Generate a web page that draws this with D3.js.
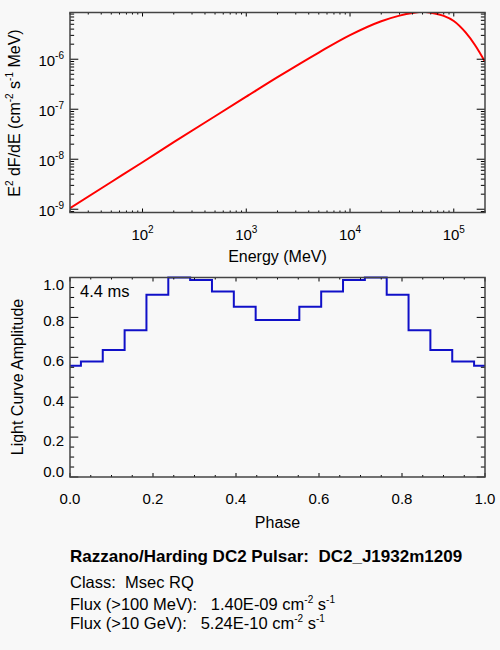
<!DOCTYPE html>
<html><head><meta charset="utf-8">
<script src="https://cdn.jsdelivr.net/npm/d3@7/dist/d3.min.js"></script>
<style>
html,body{margin:0;padding:0;background:#f8f8f8;}
svg{display:block;font-family:"Liberation Sans",Arial,Helvetica,sans-serif;}
text{fill:#000;white-space:pre;}
</style></head>
<body>
<svg id="c" width="500" height="650"></svg>
<script>
// ---- Spectrum (E^2 dF/dE) ----
const energyMeV = [20, 50, 100, 200, 500, 1000, 2000, 5000, 10000, 20000, 30000, 40000, 50000, 60000, 80000, 100000, 130000, 160000, 200000];
const e2dfde   = [1.05e-9, 3.5e-9, 8.7e-9, 2.19e-8, 7.24e-8, 1.78e-7, 4.37e-7, 1.36e-6, 3.03e-6, 5.75e-6, 7.45e-6, 8.43e-6, 8.9e-6, 8.5e-6, 7.35e-6, 5.83e-6, 3.44e-6, 1.93e-6, 8.95e-7];
const energyTickExp = [2, 3, 4, 5];
const fluxTickExp = [-9, -8, -7, -6];

// ---- Light curve ----
const phase = [0, 0.0526, 0.1053, 0.1579, 0.2105, 0.2632, 0.3158, 0.3684, 0.4211, 0.4737, 0.5263, 0.5789, 0.6316, 0.6842, 0.7368, 0.7895, 0.8421, 0.8947, 0.9474, 1.0];
const amplitude = [0.558, 0.579, 0.637, 0.735, 0.913, 1.0, 0.988, 0.930, 0.854, 0.787, 0.787, 0.854, 0.930, 0.988, 1.0, 0.913, 0.735, 0.637, 0.579, 0.558];
const phaseTicks = [0, 0.2, 0.4, 0.6, 0.8, 1.0];
const ampTicks = [0, 0.2, 0.4, 0.6, 0.8, 1.0];

const infoTitle = "Razzano/Harding DC2 Pulsar:  DC2_J1932m1209";
const infoClass = "Class:  Msec RQ";
const infoFlux1 = ["Flux (>100 MeV):   1.40E-09 cm", "-2", " s", "-1"];
const infoFlux2 = ["Flux (>10 GeV):   5.24E-10 cm", "-2", " s", "-1"];

const svg = d3.select("#c");
const L = 70, R = 485;
const T1 = 12.5, B1 = 212.5;
const T2 = 277.5, B2 = 477;
const frameCol = "#444";

const x1 = d3.scaleLog().domain([20, 2e5]).range([L, R]);
const y1 = d3.scaleLog().domain([8.6e-10, 8.6e-6]).range([B1, T1]);
const x2 = d3.scaleLinear().domain([0, 1]).range([L, R]);
const y2 = d3.scaleLinear().domain([0, 1]).range([B2, T2]);

function logMinors(lo, hi) {
  const out = [];
  for (let e = Math.floor(Math.log10(lo)); e <= Math.ceil(Math.log10(hi)); e++) {
    for (let k = 2; k <= 9; k++) {
      const v = k * Math.pow(10, e);
      if (v >= lo * 0.999 && v <= hi * 1.001) out.push(v);
    }
  }
  return out;
}
function linMinors(lo, hi, step) {
  const out = [];
  for (let v = lo; v <= hi + 1e-9; v += step) out.push(+v.toFixed(4));
  return out;
}

function drawTicks(g, xs, ys, top, bottom, xMaj, xMin, yMaj, yMin) {
  const xl = (bottom - top) * 0.02, yl = (R - L) * 0.02;
  const tg = g.append("g").attr("stroke", "#000").attr("stroke-width", 1);
  const xt = xMaj.map(v => ({v, len: xl})).concat(xMin.map(v => ({v, len: xl / 2})));
  xt.forEach(d => {
    const px = xs(d.v);
    tg.append("line").attr("x1", px).attr("x2", px).attr("y1", bottom).attr("y2", bottom - d.len);
    tg.append("line").attr("x1", px).attr("x2", px).attr("y1", top).attr("y2", top + d.len);
  });
  const yt = yMaj.map(v => ({v, len: yl})).concat(yMin.map(v => ({v, len: yl / 2})));
  yt.forEach(d => {
    const py = ys(d.v);
    tg.append("line").attr("x1", L).attr("x2", L + d.len).attr("y1", py).attr("y2", py);
    tg.append("line").attr("x1", R).attr("x2", R - d.len).attr("y1", py).attr("y2", py);
  });
  g.append("rect").attr("x", L).attr("y", top).attr("width", R - L).attr("height", bottom - top)
    .attr("fill", "none").attr("stroke", frameCol).attr("stroke-width", 1.5);
}

// ===== Top plot =====
const g1 = svg.append("g");
svg.append("clipPath").attr("id", "clip1").append("rect")
  .attr("x", L).attr("y", T1).attr("width", R - L).attr("height", B1 - T1);
const spec = energyMeV.map((e, i) => [e, e2dfde[i]]);
g1.append("path").datum(spec)
  .attr("clip-path", "url(#clip1)")
  .attr("fill", "none").attr("stroke", "#ff0000").attr("stroke-width", 2)
  .attr("d", d3.line().x(d => x1(d[0])).y(d => y1(d[1])).curve(d3.curveMonotoneX));

drawTicks(g1, x1, y1, T1, B1,
  energyTickExp.map(e => Math.pow(10, e)), logMinors(20, 2e5),
  fluxTickExp.map(e => Math.pow(10, e)), logMinors(8.6e-10, 8.6e-6));

energyTickExp.forEach(e => {
  const t = g1.append("text").attr("x", x1(Math.pow(10, e))).attr("y", 240)
    .attr("text-anchor", "middle").attr("font-size", 15);
  t.append("tspan").text("10");
  t.append("tspan").attr("font-size", 10).attr("dy", -7).text(String(e));
});
fluxTickExp.forEach(e => {
  const t = g1.append("text").attr("x", 64).attr("y", y1(Math.pow(10, e)) + 7)
    .attr("text-anchor", "end").attr("font-size", 15);
  t.append("tspan").text("10");
  t.append("tspan").attr("font-size", 10).attr("dy", -7).text(String(e));
});
g1.append("text").attr("x", (L + R) / 2).attr("y", 262).attr("text-anchor", "middle")
  .attr("font-size", 16).text("Energy (MeV)");
{
  const t = g1.append("text").attr("transform", "translate(20,113) rotate(-90)")
    .attr("text-anchor", "middle").attr("font-size", 16);
  t.append("tspan").text("E");
  t.append("tspan").attr("font-size", 10).attr("dy", -7).text("2");
  t.append("tspan").attr("dy", 7).text(" dF/dE (cm");
  t.append("tspan").attr("font-size", 10).attr("dy", -7).text("-2");
  t.append("tspan").attr("dy", 7).text(" s");
  t.append("tspan").attr("font-size", 10).attr("dy", -7).text("-1");
  t.append("tspan").attr("dy", 7).text(" MeV)");
}

// ===== Bottom plot =====
const g2 = svg.append("g");
const lc = phase.map((p, i) => [p, amplitude[i]]);
g2.append("path").datum(lc)
  .attr("fill", "none").attr("stroke", "#1010c8").attr("stroke-width", 2)
  .attr("d", d3.line().x(d => x2(d[0])).y(d => y2(d[1])).curve(d3.curveStep));

drawTicks(g2, x2, y2, T2, B2, phaseTicks, linMinors(0, 1, 0.05).filter(v => !phaseTicks.some(m => Math.abs(m - v) < 1e-6)),
  ampTicks, linMinors(0, 1, 0.05).filter(v => !ampTicks.some(m => Math.abs(m - v) < 1e-6)));

phaseTicks.forEach(v => {
  g2.append("text").attr("x", x2(v)).attr("y", 504).attr("text-anchor", "middle")
    .attr("font-size", 15).text(v.toFixed(1));
});
ampTicks.forEach((v, i) => {
  let dy = 8.5;
  if (i === 0) dy = 0;
  if (i === ampTicks.length - 1) dy = 12.5;
  g2.append("text").attr("x", 64).attr("y", y2(v) + dy).attr("text-anchor", "end")
    .attr("font-size", 15).text(v.toFixed(1));
});
g2.append("text").attr("x", (L + R) / 2).attr("y", 528).attr("text-anchor", "middle")
  .attr("font-size", 16).text("Phase");
g2.append("text").attr("transform", "translate(23,377) rotate(-90)")
  .attr("text-anchor", "middle").attr("font-size", 16).text("Light Curve Amplitude");
g2.append("text").attr("x", 80).attr("y", 297).attr("font-size", 16.5).text("4.4 ms");

// ===== Info text =====
const info = svg.append("g");
info.append("text").attr("x", 70).attr("y", 562).attr("font-size", 17).attr("font-weight", "bold")
  .attr("xml:space", "preserve").text(infoTitle);
info.append("text").attr("x", 70).attr("y", 587.5).attr("font-size", 16.5)
  .attr("xml:space", "preserve").text(infoClass);
[[infoFlux1, 610], [infoFlux2, 629]].forEach(([parts, yy]) => {
  const t = info.append("text").attr("x", 70).attr("y", yy).attr("font-size", 16.5)
    .attr("xml:space", "preserve");
  t.append("tspan").text(parts[0]);
  t.append("tspan").attr("font-size", 10).attr("dy", -7).text(parts[1]);
  t.append("tspan").attr("dy", 7).text(parts[2]);
  t.append("tspan").attr("font-size", 10).attr("dy", -7).text(parts[3]);
});
</script>
</body></html>
